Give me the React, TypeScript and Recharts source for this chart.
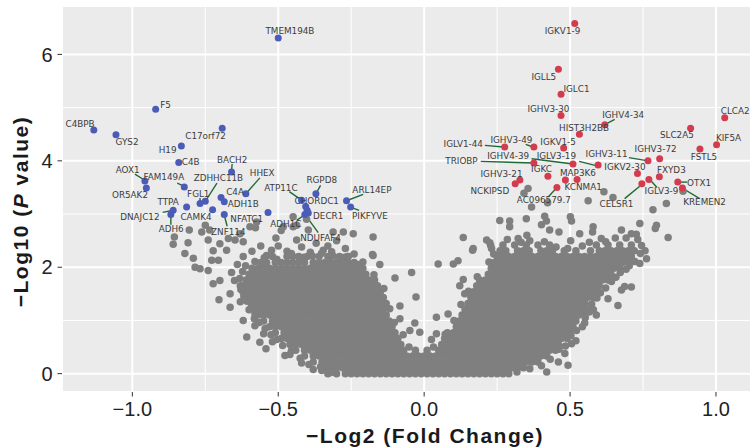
import React from "react";
import {
    ScatterChart,
    Scatter,
    XAxis,
    YAxis,
    CartesianGrid,
    ReferenceLine,
} from "recharts";

// axis ticks
const xTicks = [-1, -0.5, 0, 0.5, 1];
const yTicks = [0, 2, 4, 6];
const xMinor = [-0.75, -0.25, 0.25, 0.75];
const yMinor = [1, 3, 5];

// non-significant genes, dense part: [y, x values in hundredths]
const grayBase: [number, number[]][] = [
    [0, [-30, -27, -25, -23, -21, -19, -17, -15, -13, -11, -9, -7, -5, -3, -1, 1, 3, 5, 7, 9, 11, 13, 15, 17, 19, 21, 23, 25, 27, 29]],
    [0.11, [-34, -32, -30, -28, -26, -24, -22, -20, -18, -16, -14, -12, -10, -8, -6, -4, -2, 0, 2, 4, 6, 8, 10, 12, 14, 16, 18, 20, 22, 24, 26, 28, 30, 32, 34]],
    [0.22, [-38, -35, -33, -31, -29, -27, -25, -23, -21, -19, -17, -15, -13, -11, -9, -7, -5, -3, -1, 1, 3, 5, 7, 9, 11, 13, 15, 17, 19, 21, 23, 25, 27, 29, 31, 33, 35, 37, 39]],
    [0.33, [-41, -38, -36, -34, -32, -30, -28, -26, -24, -22, -20, -18, -16, -14, -12, -10, -8, -6, -4, -2, 0, 2, 4, 6, 8, 10, 12, 14, 16, 18, 20, 22, 24, 26, 28, 30, 32, 34, 36, 38, 40, 42]],
];

const grayLeft: [number, number[]][] = [
    [0.44, [-44, -41, -39, -37, -35, -33, -31, -29, -27, -25, -23, -21, -19, -17, -15, -13, -11, -9, -7, -3]],
    [0.55, [-46, -44, -42, -40, -38, -36, -34, -32, -30, -28, -26, -24, -22, -20, -18, -16, -14, -12, -10, -8]],
    [0.66, [-49, -47, -45, -43, -41, -39, -37, -35, -33, -31, -29, -27, -25, -23, -21, -19, -17, -15, -13, -11, -9]],
    [0.77, [-51, -48, -46, -44, -42, -40, -38, -36, -34, -32, -30, -28, -26, -24, -22, -20, -18, -16, -14, -12, -10]],
    [0.88, [-53, -51, -49, -47, -45, -43, -41, -39, -37, -35, -33, -31, -29, -27, -25, -23, -21, -19, -17, -15, -13, -11]],
    [0.99, [-55, -52, -50, -48, -46, -44, -42, -40, -38, -36, -34, -32, -30, -28, -26, -24, -22, -20, -18, -16, -14, -12]],
    [1.1, [-57, -55, -53, -51, -49, -47, -45, -43, -41, -39, -37, -35, -33, -31, -29, -27, -25, -23, -21, -19, -17, -15, -13]],
    [1.21, [-58, -56, -54, -52, -50, -48, -46, -44, -42, -40, -38, -36, -34, -32, -30, -28, -26, -24, -22, -20, -18, -16, -14]],
    [1.32, [-59, -57, -55, -53, -51, -49, -47, -45, -43, -41, -39, -37, -35, -33, -31, -29, -27, -25, -23, -21, -19, -17, -15, -13]],
    [1.43, [-60, -58, -56, -54, -52, -50, -48, -46, -44, -42, -40, -38, -36, -34, -32, -30, -28, -26, -24, -22, -20, -18, -16, -14]],
    [1.54, [-61, -59, -57, -55, -53, -51, -49, -47, -45, -43, -41, -39, -37, -35, -33, -31, -29, -27, -25, -23, -21, -19, -17, -15]],
    [1.65, [-62, -60, -58, -56, -54, -52, -50, -48, -46, -44, -42, -40, -38, -36, -34, -32, -30, -28, -26, -24, -22, -20, -18, -16]],
    [1.76, [-61, -59, -57, -55, -53, -51, -49, -47, -45, -43, -41, -39, -37, -35, -33, -31, -29, -27, -25, -23, -21, -19, -17]],
    [1.87, [-60, -58, -56, -54, -52, -50, -48, -46, -44, -42, -40, -38, -36, -34, -32, -30, -28, -26, -24, -22, -20]],
    [1.98, [-59, -57, -55, -53, -51, -49, -47, -45, -43, -41, -39, -37, -35, -33, -31, -29, -27, -25, -23, -21]],
    [2.09, [-56, -54, -51, -49, -47, -45, -43, -41, -38, -36, -34, -32, -30, -28, -26, -24]],
    [2.2, [-52, -47, -43, -40, -36, -33, -29, -26]],
];

const grayRight: [number, number[]][] = [
    [0.44, [1, 5, 7, 9, 11, 13, 15, 17, 19, 21, 23, 25, 27, 29, 31, 33, 35, 37, 39, 41, 43, 45]],
    [0.55, [6, 8, 10, 12, 14, 16, 18, 20, 22, 24, 26, 28, 30, 32, 34, 36, 38, 40, 42, 44, 46]],
    [0.66, [7, 9, 11, 13, 15, 17, 19, 21, 23, 25, 27, 29, 31, 33, 35, 37, 39, 41, 43, 45, 47, 49]],
    [0.77, [8, 10, 12, 14, 16, 18, 20, 22, 24, 26, 28, 30, 32, 34, 36, 38, 40, 42, 44, 46, 48, 50]],
    [0.88, [11, 13, 15, 17, 19, 21, 23, 25, 27, 29, 31, 33, 35, 37, 39, 41, 43, 45, 47, 49, 51]],
    [0.99, [12, 14, 16, 18, 20, 22, 24, 26, 28, 30, 32, 34, 36, 38, 40, 42, 44, 46, 48, 50, 52]],
    [1.1, [13, 15, 17, 19, 21, 23, 25, 27, 29, 31, 33, 35, 37, 39, 41, 43, 45, 47, 49, 51, 53, 55]],
    [1.21, [14, 16, 18, 20, 22, 24, 26, 28, 30, 32, 34, 36, 38, 40, 42, 44, 46, 48, 50, 52, 54, 56]],
    [1.32, [15, 17, 19, 21, 23, 25, 27, 29, 31, 33, 35, 37, 39, 41, 43, 45, 47, 49, 51, 53, 55]],
    [1.43, [16, 18, 20, 22, 24, 26, 28, 30, 32, 34, 36, 38, 40, 42, 44, 46, 48, 50, 52, 54, 56, 58]],
    [1.54, [17, 19, 21, 23, 25, 27, 29, 31, 33, 35, 37, 39, 41, 43, 45, 47, 49, 51, 53, 55, 57, 59]],
    [1.65, [18, 20, 22, 24, 26, 28, 30, 32, 34, 36, 38, 40, 42, 44, 46, 48, 50, 52, 54, 56, 58, 60]],
    [1.76, [19, 21, 23, 25, 27, 29, 31, 33, 35, 37, 39, 41, 43, 45, 47, 49, 51, 53, 55, 57, 59, 61, 63]],
    [1.87, [22, 24, 26, 28, 30, 32, 34, 36, 38, 40, 42, 44, 46, 48, 50, 52, 54, 56, 58, 60, 62, 64]],
    [1.98, [23, 25, 27, 29, 31, 33, 35, 37, 39, 41, 43, 45, 47, 49, 51, 53, 55, 57, 59, 61, 63, 65, 67]],
    [2.09, [24, 26, 28, 30, 32, 34, 36, 38, 40, 42, 44, 46, 48, 50, 52, 54, 56, 58, 60, 62, 64, 66, 68, 70]],
    [2.2, [25, 27, 29, 31, 33, 35, 37, 39, 41, 43, 45, 47, 49, 51, 53, 55, 57, 59, 61, 63, 65, 67, 69, 71]],
    [2.31, [26, 28, 32, 34, 36, 40, 42, 44, 48, 52, 57, 60, 62, 64, 66, 68, 70, 72]],
    [2.42, [27, 31, 35, 39, 43, 59, 63, 67, 71]],
];

// non-significant genes, loose points: [x, y]
const grayLoose: [number, number][] = [
    [-0.805, 2.7], [-0.856, 2.57], [-0.86, 2.43], [-0.82, 2.26], [-0.791, 2.17], [-0.785, 2.0],
    [-0.768, 1.97], [-0.74, 1.94], [-0.728, 2.13], [-0.705, 2.13], [-0.762, 2.66], [-0.75, 2.79],
    [-0.735, 2.7], [-0.7, 2.44], [-0.671, 2.54], [-0.648, 2.51], [-0.631, 2.63], [-0.597, 2.76],
    [-0.578, 2.74], [-0.62, 2.48], [-0.677, 2.32], [-0.723, 1.69], [-0.7, 1.75], [-0.703, 1.39],
    [-0.665, 1.5], [-0.62, 1.53], [-0.62, 1.0], [-0.582, 1.03], [-0.608, 0.69], [-0.563, 0.59],
    [-0.542, 0.47], [-0.477, 0.34], [-0.351, 0.06], [-0.508, 2.55], [-0.483, 2.76], [-0.449, 2.76],
    [-0.574, 2.85], [-0.403, 2.9], [-0.437, 2.51], [-0.523, 2.32], [-0.346, 2.32], [-0.317, 2.29],
    [-0.449, 2.95], [-0.277, 2.66], [-0.243, 2.63], [-0.175, 2.57], [-0.177, 2.24], [-0.152, 2.05],
    [-0.1, 1.8], [-0.043, 1.9], [-0.028, 1.44], [-0.083, 1.27], [-0.032, 0.95], [-0.015, 0.78],
    [-0.049, 0.81], [-0.083, 1.03], [-0.175, 2.22], [-0.312, 2.66], [-0.272, 2.19], [-0.49, 2.69],
    [-0.437, 2.79], [-0.397, 2.7], [-0.809, 2.46], [-0.74, 2.51], [-0.723, 2.31], [-0.665, 1.25],
    [-0.59, 2.3], [-0.56, 2.4], [-0.54, 2.22], [-0.5, 2.4], [-0.47, 2.3], [-0.45, 2.2],
    [-0.42, 2.38], [-0.39, 2.28], [-0.37, 2.45], [-0.33, 2.4], [-0.3, 2.5], [-0.27, 2.35],
    [-0.24, 2.25], [-0.21, 2.1], [-0.62, 2.2], [-0.64, 2.05], [-0.66, 1.9], [-0.65, 1.75],
    [-0.63, 1.65], [-0.52, 0.6], [-0.55, 0.75], [-0.58, 0.9], [-0.6, 1.2], [-0.63, 1.35],
    [-0.46, 0.36], [-0.42, 0.2], [-0.38, 0.08], [-0.33, 0.0],
    // ragged rim of the left arm
    [-0.32, 0.02], [-0.355, 0.13], [-0.395, 0.17], [-0.425, 0.29], [-0.455, 0.43], [-0.485, 0.53],
    [-0.505, 0.64], [-0.525, 0.73], [-0.545, 0.85], [-0.565, 0.96], [-0.58, 1.12], [-0.592, 1.26],
    [-0.607, 1.36], [-0.618, 1.46], [-0.628, 1.58], [-0.632, 1.79], [-0.622, 1.92], [-0.612, 2.03],
    [-0.58, 2.11], [-0.548, 2.18], [-0.505, 2.15], [-0.455, 2.26], [-0.412, 2.19], [-0.383, 2.21],
    [-0.352, 2.26], [-0.312, 2.21], [-0.284, 2.18], [-0.262, 2.2], [-0.228, 2.05], [-0.218, 1.95],
    [-0.052, 0.5], [-0.072, 0.73], [-0.102, 0.96], [-0.118, 1.22], [-0.138, 1.6], [-0.172, 1.86],
    // ragged rim of the right arm
    [0.318, 0.03], [0.362, 0.09], [0.402, 0.15], [0.432, 0.27], [0.462, 0.46], [0.484, 0.52],
    [0.503, 0.71], [0.522, 0.81], [0.542, 0.88], [0.552, 1.05], [0.566, 1.16], [0.574, 1.31],
    [0.592, 1.42], [0.604, 1.52], [0.622, 1.61], [0.642, 1.73], [0.657, 1.81], [0.672, 1.9],
    [0.692, 1.96], [0.703, 2.03], [0.722, 2.11], [0.741, 2.26], [0.757, 2.31], [0.762, 2.16],
    [0.285, 2.52], [0.332, 2.47], [0.362, 2.5], [0.412, 2.48], [0.452, 2.38], [0.492, 2.35],
    [0.542, 2.4], [0.566, 2.47], [0.622, 2.48], [0.655, 2.55], [0.692, 2.55], [0.732, 2.52],
    [0.352, 2.6], [0.502, 2.5], [0.032, 0.5], [0.072, 0.74], [0.102, 1.0], [0.126, 1.3],
    [0.152, 1.55], [0.182, 1.82], [0.222, 2.1], [0.238, 2.25],
    [0.356, 3.48], [0.342, 3.39], [0.423, 3.21], [0.368, 3.13], [0.562, 3.25], [0.616, 3.42],
    [0.259, 2.88], [0.35, 2.91], [0.413, 2.96], [0.419, 2.87], [0.505, 2.87], [0.134, 2.56],
    [0.43, 2.7], [0.462, 2.66], [0.579, 2.76], [0.577, 2.66], [0.533, 2.63], [0.607, 2.54],
    [0.322, 2.54], [0.214, 2.51], [0.168, 2.35], [0.228, 2.41], [0.647, 3.31], [0.784, 3.08],
    [0.83, 3.2], [0.836, 2.56], [0.796, 2.79], [0.792, 2.73], [0.402, 2.8], [0.501, 2.95],
    [0.293, 2.87], [0.293, 2.76], [0.739, 2.82], [0.676, 2.7], [0.71, 2.63], [0.727, 2.62],
    [0.745, 2.41], [0.71, 1.63], [0.664, 1.28], [0.687, 1.64], [0.63, 1.41], [0.505, 0.56],
    [0.42, 0.03], [0.493, 0.16], [0.482, 0.38], [0.887, 3.43], [0.1, 2.06], [0.116, 2.12],
    [0.048, 2.06], [0.166, 2.32], [0.225, 2.46], [0.231, 2.35], [0.134, 1.77], [0.122, 1.65],
    [0.139, 1.5], [0.082, 1.12], [0.042, 1.06], [0.042, 0.75], [0.025, 0.64], [0.59, 1.1],
    [0.55, 0.95], [0.58, 1.2], [0.52, 0.62], [0.46, 0.22], [0.739, 2.07], [0.676, 1.57],
];

// down-regulated genes: [gene, x, y]
const downGenes: [string, number, number][] = [
    ["F5", -0.92, 4.97], ["C4BPB", -1.132, 4.58], ["GYS2", -1.056, 4.49], ["C17orf72", -0.692, 4.61],
    ["H19", -0.832, 4.28], ["C4B", -0.841, 3.97], ["BACH2", -0.66, 3.79], ["AOX1", -0.957, 3.62],
    ["OR5AK2", -0.952, 3.49], ["FAM149A", -0.822, 3.51], ["ZDHHC11B", -0.75, 3.24], ["FGL1", -0.768, 3.2],
    ["C4A", -0.696, 3.31], ["ADH1B", -0.685, 3.23], ["HHEX", -0.611, 3.38], ["TTPA", -0.86, 3.07],
    ["ADH6", -0.868, 2.99], ["CAMK4", -0.814, 3.13], ["", -0.725, 3.08], ["ZNF114", -0.685, 2.99],
    ["NFATC1", -0.535, 3.03], ["TMEM194B", -0.5, 6.31], ["RGPD8", -0.371, 3.38], ["ATP11C", -0.42, 3.26],
    ["CHORDC1", -0.406, 3.14], ["DECR1", -0.401, 3.07], ["ADH1C", -0.409, 2.99], ["NDUFAF4", -0.397, 3.02],
    ["ARL14EP", -0.266, 3.25], ["PIKFYVE", -0.252, 3.13],
];

// up-regulated genes: [gene, x, y]
const upGenes: [string, number, number][] = [
    ["IGKV1-9", 0.516, 6.58], ["IGLL5", 0.46, 5.72], ["IGLC1", 0.469, 5.25], ["IGHV3-30", 0.469, 4.85],
    ["IGHV4-34", 0.619, 4.68], ["HIST3H2BB", 0.532, 4.5], ["CLCA2", 1.03, 4.81], ["SLC2A5", 0.913, 4.61],
    ["KIF5A", 1.002, 4.3], ["FSTL5", 0.945, 4.22], ["IGLV1-44", 0.276, 4.26], ["IGHV3-49", 0.376, 4.26],
    ["IGKV1-5", 0.478, 4.24], ["TRIOBP", 0.376, 3.96], ["IGHV4-39", 0.51, 3.94], ["IGLV3-19", 0.596, 3.92],
    ["IGHV3-11", 0.767, 4.0], ["IGHV3-72", 0.807, 4.04], ["IGKV2-30", 0.731, 3.76], ["FXYD3", 0.806, 3.7],
    ["OTX1", 0.869, 3.6], ["KREMEN2", 0.885, 3.49], ["IGLV3-9", 0.77, 3.65], ["CELSR1", 0.746, 3.57],
    ["IGKC", 0.424, 3.71], ["MAP3K6", 0.484, 3.64], ["KCNMA1", 0.524, 3.65], ["IGHV3-21", 0.328, 3.64],
    ["NCKIPSD", 0.312, 3.57], ["AC096579.7", 0.455, 3.5],
];

// repelled label anchors: [text, x, y]
const labelSpots: [string, number, number][] = [
    ["F5", -0.886, 5.05], ["C4BPB", -1.179, 4.69], ["GYS2", -1.018, 4.36], ["C17orf72", -0.749, 4.47],
    ["H19", -0.879, 4.21], ["C4B", -0.8, 3.97], ["BACH2", -0.658, 4.01], ["AOX1", -1.016, 3.82],
    ["FAM149A", -0.892, 3.69], ["ZDHHC11B", -0.705, 3.67], ["OR5AK2", -1.008, 3.36], ["FGL1", -0.774, 3.38],
    ["C4A", -0.648, 3.42], ["HHEX", -0.555, 3.77], ["ADH1B", -0.62, 3.18], ["TTPA", -0.877, 3.22],
    ["DNAJC12", -0.974, 2.95], ["CAMK4", -0.782, 2.95], ["NFATC1", -0.608, 2.9], ["ADH6", -0.867, 2.71],
    ["ZNF114", -0.671, 2.66], ["TMEM194B", -0.46, 6.44], ["RGPD8", -0.351, 3.64], ["ATP11C", -0.491, 3.49],
    ["CHORDC1", -0.368, 3.24], ["DECR1", -0.329, 2.96], ["ADH1C", -0.474, 2.81], ["NDUFAF4", -0.355, 2.55],
    ["ARL14EP", -0.179, 3.46], ["PIKFYVE", -0.186, 2.96],
    ["IGKV1-9", 0.474, 6.44], ["IGLL5", 0.41, 5.58], ["IGLC1", 0.522, 5.35], ["IGHV3-30", 0.426, 4.98],
    ["IGHV4-34", 0.682, 4.86], ["HIST3H2BB", 0.548, 4.62], ["CLCA2", 1.066, 4.93], ["SLC2A5", 0.866, 4.48],
    ["KIF5A", 1.043, 4.43], ["IGLV1-44", 0.134, 4.32], ["IGHV3-49", 0.299, 4.4], ["IGKV1-5", 0.459, 4.36],
    ["FSTL5", 0.959, 4.07], ["IGHV3-72", 0.793, 4.23], ["TRIOBP", 0.128, 3.99], ["IGHV4-39", 0.288, 4.09],
    ["IGLV3-19", 0.453, 4.09], ["IGHV3-11", 0.625, 4.12], ["IGKV2-30", 0.688, 3.89], ["FXYD3", 0.847, 3.82],
    ["IGKC", 0.402, 3.84], ["MAP3K6", 0.527, 3.77], ["IGHV3-21", 0.265, 3.76], ["OTX1", 0.942, 3.58],
    ["KCNMA1", 0.545, 3.51], ["NCKIPSD", 0.225, 3.43], ["IGLV3-9", 0.813, 3.43], ["AC096579.7", 0.41, 3.26],
    ["CELSR1", 0.659, 3.19], ["KREMEN2", 0.961, 3.22],
];

// label leader segments: [x1, y1, x2, y2]
const leaders: [number, number, number, number][] = [
    [-0.991, 3.75, -0.959, 3.64], [-0.846, 3.58, -0.822, 3.52], [-0.658, 3.94, -0.66, 3.81],
    [-0.71, 3.58, -0.75, 3.24], [-0.768, 3.3, -0.768, 3.2], [-0.563, 3.68, -0.611, 3.38],
    [-0.896, 3.03, -0.86, 3.07], [-0.868, 2.97, -0.868, 2.8], [-0.686, 3.0, -0.675, 2.77],
    [-0.462, 3.42, -0.42, 3.26], [-0.355, 3.54, -0.371, 3.38], [-0.437, 2.88, -0.405, 3.0],
    [-0.403, 2.95, -0.363, 2.65], [-0.266, 3.25, -0.209, 3.37], [-0.252, 3.13, -0.223, 3.07],
    [0.619, 4.68, 0.653, 4.78], [0.208, 4.29, 0.271, 4.26], [0.348, 4.31, 0.373, 4.26],
    [0.194, 3.99, 0.373, 3.96], [0.368, 4.04, 0.51, 3.94], [0.531, 3.99, 0.596, 3.9],
    [0.702, 4.06, 0.767, 4.0], [0.869, 3.6, 0.901, 3.6], [0.887, 3.48, 0.944, 3.29],
    [0.773, 3.65, 0.798, 3.5], [0.747, 3.56, 0.687, 3.29], [0.455, 3.5, 0.425, 3.32],
];

const fromRows = (rows: [number, number[]][]) =>
    rows.flatMap(([y, xs]) => xs.map((h) => ({ x: h / 100, y })));

const grayData = [
    ...fromRows(grayBase),
    ...fromRows(grayLeft),
    ...fromRows(grayRight),
    ...grayLoose.map(([x, y]) => ({ x, y })),
];
const downData = downGenes.map(([gene, x, y]) => ({ gene, x, y }));
const upData = upGenes.map(([gene, x, y]) => ({ gene, x, y }));
const labelData = labelSpots.map(([name, x, y]) => ({ name, x, y }));

const dot = (fill: string, r: number) => (p: any) =>
    <circle cx={p.cx} cy={p.cy} r={r} fill={fill} />;

const GeneLabel = (p: any) => (
    <text
        x={p.cx}
        y={p.cy}
        textAnchor="middle"
        dominantBaseline="central"
        fontSize={8.8}
        fill="#3c3c3c"
        fontFamily="DejaVu Sans"
    >
        {p.payload.name}
    </text>
);

const fmtX = (v: number) => (v < 0 ? "\u2212" : "") + Math.abs(v).toFixed(1);

const titleStyle: React.CSSProperties = {
    position: "absolute",
    fontFamily: '"Liberation Sans", Arial, sans-serif',
    fontWeight: "bold",
    fontSize: 21,
    lineHeight: "21px",
    letterSpacing: 1.5,
    color: "#1a1a1a",
    textAlign: "center",
    whiteSpace: "nowrap",
};

export default function App() {
    return (
        <div style={{ position: "absolute", left: 0, top: 0, width: 751, height: 448 }}>
            <ScatterChart
                width={751}
                height={448}
                margin={{ top: 6, right: 0, bottom: 0, left: 0 }}
                style={{ fontFamily: '"Liberation Sans", Arial, sans-serif' }}
            >
                <CartesianGrid fill="#EBEBEB" fillOpacity={1} stroke="#ffffff" strokeWidth={2} />
                <XAxis
                    type="number"
                    dataKey="x"
                    domain={[-1.241, 1.12]}
                    allowDataOverflow
                    ticks={xTicks}
                    tickFormatter={fmtX}
                    height={56}
                    axisLine={false}
                    tickSize={4.5}
                    tickMargin={5}
                    tickLine={{ stroke: "#333" }}
                    tick={{ fontSize: 20, fill: "#222" }}
                />
                <YAxis
                    type="number"
                    dataKey="y"
                    domain={[-0.345, 6.91]}
                    allowDataOverflow
                    ticks={yTicks}
                    width={62}
                    axisLine={false}
                    tickSize={4.5}
                    tickMargin={5}
                    tickLine={{ stroke: "#333" }}
                    tick={{ fontSize: 20, fill: "#222" }}
                />
                {xMinor.map((v) => (
                    <ReferenceLine key={"mx" + v} x={v} stroke="#ffffff" strokeWidth={1} zIndex={-50} />
                ))}
                {yMinor.map((v) => (
                    <ReferenceLine key={"my" + v} y={v} stroke="#ffffff" strokeWidth={1} zIndex={-50} />
                ))}
                <Scatter data={grayData} shape={dot("#7f7f7f", 3.75)} isAnimationActive={false} />
                {leaders.map(([x1, y1, x2, y2], i) => (
                    <ReferenceLine
                        key={"l" + i}
                        segment={[{ x: x1, y: y1 }, { x: x2, y: y2 }]}
                        stroke="#1f6b35"
                        strokeWidth={1.4}
                    />
                ))}
                <Scatter data={downData} shape={dot("#4b5cb8", 3.5)} isAnimationActive={false} />
                <Scatter data={upData} shape={dot("#d33c4f", 3.5)} isAnimationActive={false} />
                <Scatter data={labelData} shape={GeneLabel} isAnimationActive={false} />
            </ScatterChart>
            <div style={{ ...titleStyle, left: 225, top: 425, width: 400 }}>
                {"\u2212Log2 (Fold Change)"}
            </div>
            <div
                style={{
                    ...titleStyle,
                    left: -110,
                    top: 201,
                    width: 260,
                    height: 21,
                    transform: "rotate(-90deg)",
                    transformOrigin: "center",
                }}
            >
                {"\u2212Log10 ("}
                <span style={{ fontStyle: "italic" }}>P</span>
                {" value)"}
            </div>
        </div>
    );
}
